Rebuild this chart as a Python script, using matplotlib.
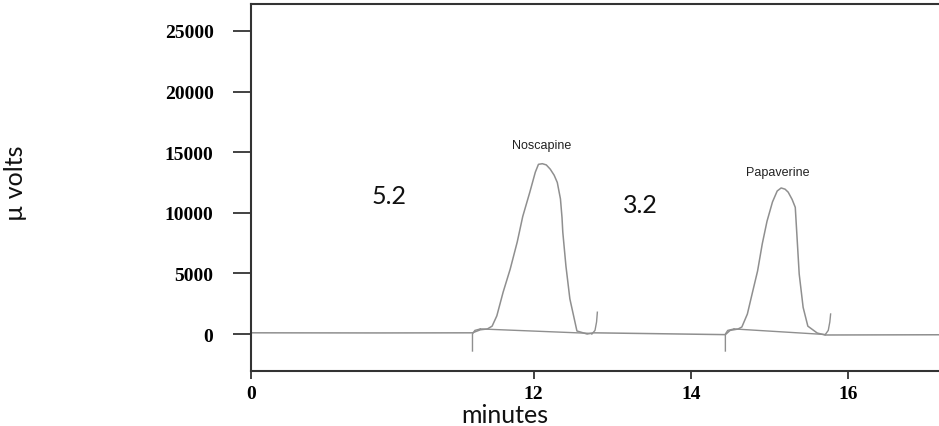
import matplotlib
matplotlib.use("Agg")
import matplotlib.pyplot as plt

# ---- data ----
trace_time = [8.40, 10.00, 11.22, 11.32, 11.41, 11.47, 11.53, 11.61, 11.70, 11.79,
              11.86, 11.95, 12.02, 12.06, 12.11, 12.16, 12.21, 12.26, 12.30, 12.34,
              12.36, 12.37, 12.41, 12.46, 12.55, 12.68, 12.76, 14.44, 14.50, 14.60,
              14.65, 14.72, 14.78, 14.85, 14.91, 14.97, 15.04, 15.10, 15.15, 15.20,
              15.24, 15.29, 15.33, 15.35, 15.38, 15.43, 15.49, 15.61, 15.71, 17.16]
trace_signal = [100, 90, 100, 350, 420, 650, 1500, 3450, 5350, 7600,
                9700, 11700, 13350, 14000, 14050, 13950, 13600, 13100, 12500, 11150,
                9600, 8400, 5600, 2900, 250, 0, 100, -50, 300, 410,
                580, 1650, 3300, 5200, 7450, 9300, 10900, 11800, 12050, 11950,
                11700, 11100, 10450, 8250, 4950, 2200, 650, 80, -80, -60]

# integration start / end markers and drawn baselines (time, signal)
nos_start_t = [11.22, 11.22, 11.25, 11.32]
nos_start_s = [-1400, 0, 300, 420]
nos_end_t = [12.74, 12.78, 12.80, 12.81]
nos_end_s = [0, 300, 1000, 1800]
nos_base_t = [11.32, 12.74]
nos_base_s = [420, 50]

pap_start_t = [14.44, 14.44, 14.47, 14.55]
pap_start_s = [-1400, 0, 300, 420]
pap_end_t = [15.71, 15.75, 15.77, 15.78]
pap_end_s = [-60, 300, 1000, 1650]
pap_base_t = [14.55, 15.71]
pap_base_s = [420, -40]

peak_names = ["Noscapine", "Papaverine"]
peak_label_t = [12.10, 15.11]
peak_label_s = [15600, 13350]

resolution_text = ["5.2", "3.2"]
resolution_t = [10.16, 13.36]
resolution_s = [11450, 10650]

xtick_pos = [8.40, 12, 14, 16]
xtick_labels = ["0", "12", "14", "16"]
ytick_pos = [0, 5000, 10000, 15000, 20000, 25000]
ytick_labels = ["0", "5000", "10000", "15000", "20000", "25000"]

# ---- figure ----
W, H = 939, 427
fig = plt.figure(figsize=(W / 100, H / 100), dpi=100)
ax_left, ax_bottom, ax_top = 251, 372, 5
ax = fig.add_axes([ax_left / W, 1 - ax_bottom / H, 1 - ax_left / W, (ax_bottom - ax_top) / H])

line_col = "#8f8f8f"
ax.plot(trace_time, trace_signal, color=line_col, lw=1.1)
for tt, ss in [(nos_start_t, nos_start_s), (nos_end_t, nos_end_s), (nos_base_t, nos_base_s),
               (pap_start_t, pap_start_s), (pap_end_t, pap_end_s), (pap_base_t, pap_base_s)]:
    ax.plot(tt, ss, color=line_col, lw=1.0)

ax.set_xlim(8.40, 17.16)
ax.set_ylim(-3050, 27225)

spine_col = "#333333"
for side in ["left", "bottom", "top"]:
    ax.spines[side].set_color(spine_col)
    ax.spines[side].set_linewidth(1.5)
ax.spines["right"].set_visible(False)

serif = {"family": "Liberation Serif", "weight": "bold", "size": 14}
ax.set_xticks(xtick_pos)
ax.set_xticklabels(xtick_labels, fontdict=serif)
ax.set_yticks(ytick_pos)
ax.set_yticklabels(ytick_labels, fontdict=serif)
ax.tick_params(axis="y", direction="out", length=13, width=1.3, color=spine_col, pad=14)
ax.tick_params(axis="x", direction="out", length=6, width=1.3, color=spine_col, pad=4)

for name, t, s in zip(peak_names, peak_label_t, peak_label_s):
    ax.text(t, s, name, ha="center", va="center", fontsize=9, family="Liberation Sans", color="#222222")
for txt, t, s in zip(resolution_text, resolution_t, resolution_s):
    ax.text(t, s, txt, ha="center", va="center", fontsize=18, family="Lato", color="#111111")

ax.set_xlabel("minutes", fontsize=18, family="Lato", color="#111111")
ax.xaxis.set_label_coords(0.369, -0.088)
ax.set_ylabel("µ volts", fontsize=18, family="Lato", color="#111111")
ax.yaxis.set_label_coords(-0.325, 0.515)

fig.savefig("out.png", dpi=100)
